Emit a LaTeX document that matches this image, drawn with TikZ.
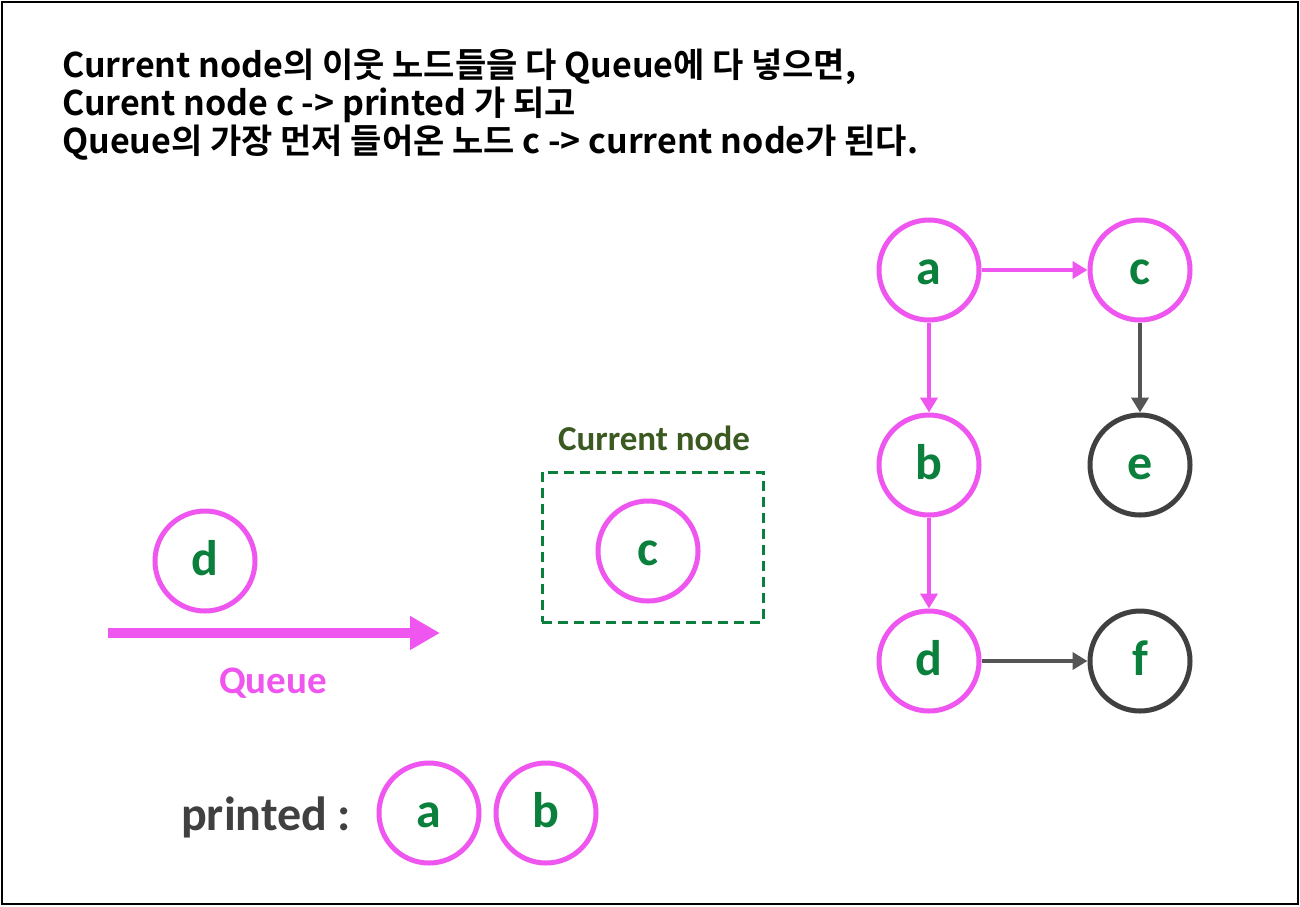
\documentclass[tikz,border=0pt]{standalone}
\usepackage{fontspec}
\setmainfont{Carlito}
\newfontfamily\kofont{Noto Sans CJK KR}[BoldFont={Noto Sans CJK KR Bold}]
\usetikzlibrary{arrows.meta}
\definecolor{pinkc}{HTML}{EF55EF}
\definecolor{greent}{HTML}{0A803C}
\definecolor{grayedge}{HTML}{555555}
\definecolor{graynode}{HTML}{404040}
\definecolor{olive}{HTML}{3B5A22}
\tikzset{
  vnode/.style={circle, draw=pinkc, line width=5pt, minimum size=100pt, inner sep=0pt,
    text=greent, font=\bfseries\fontsize{50}{54}\selectfont, text height=31pt, text depth=2.5pt},
  gnode/.style={vnode, draw=graynode},
  pedge/.style={draw=pinkc, line width=4pt, -{Triangle[length=15pt,width=17pt]}},
  gedge/.style={draw=grayedge, line width=4pt, -{Triangle[length=15pt,width=17pt]}},
  titletext/.style={anchor=base west, inner sep=0pt, font=\kofont\bfseries\fontsize{34}{38}\selectfont},
}
\begin{document}
\begin{tikzpicture}[x=1pt,y=-1pt]
\useasboundingbox (0,0) rectangle (1300,906);
\fill[white] (0,0) rectangle (1300,906);
\draw[line width=2.5pt, black] (2,2) rectangle (1298,904);

% title
\node[titletext] (t1) at (62,77) {Current node의 이웃 노드들을 다 Queue에 다 넣으면,};
\node[titletext] (t2) at (62,115) {Curent node c -> printed 가 되고};
\node[titletext] (t3) at (62,153) {Queue의 가장 먼저 들어온 노드 c -> current node가 된다.};

% graph
\node[vnode] (a) at (929,270) {a};
\node[vnode] (c) at (1140,270) {c};
\node[vnode] (b) at (929,465) {b};
\node[gnode] (e) at (1140,465) {e};
\node[vnode] (d) at (929,661) {d};
\node[gnode] (f) at (1140,661) {f};
\draw[pedge] (a) -- (c);
\draw[pedge] (a) -- (b);
\draw[pedge] (b) -- (d);
\draw[gedge] (c) -- (e);
\draw[gedge] (d) -- (f);

% queue
\node[vnode] (qd) at (205,561) {d};
\coordinate (qs) at (108,633);
\coordinate (qe) at (440,633);
\draw[draw=pinkc, line width=10pt, -{Triangle[length=30pt,width=32pt]}] (qs) -- (qe);
\node[text=pinkc, font=\bfseries\fontsize{39}{42}\selectfont] (ql) at (273,683) {Queue};

% current node
\node[draw=greent, dash pattern=on 10pt off 6pt, line width=3pt, minimum width=221pt, minimum height=150pt] (box) at (652.5,547) {};
\node[text=olive, font=\bfseries\fontsize{35}{38}\selectfont] (cl) at (654,438) {Current node};
\node[vnode] (cc) at (648,551) {c};

% printed
\node[text=graynode, font=\bfseries\fontsize{48}{52}\selectfont, anchor=base west, inner sep=0pt] (pl) at (181,830) {printed :};
\node[vnode] (pa) at (429,813) {a};
\node[vnode] (pb) at (546,813) {b};
\end{tikzpicture}
\end{document}
